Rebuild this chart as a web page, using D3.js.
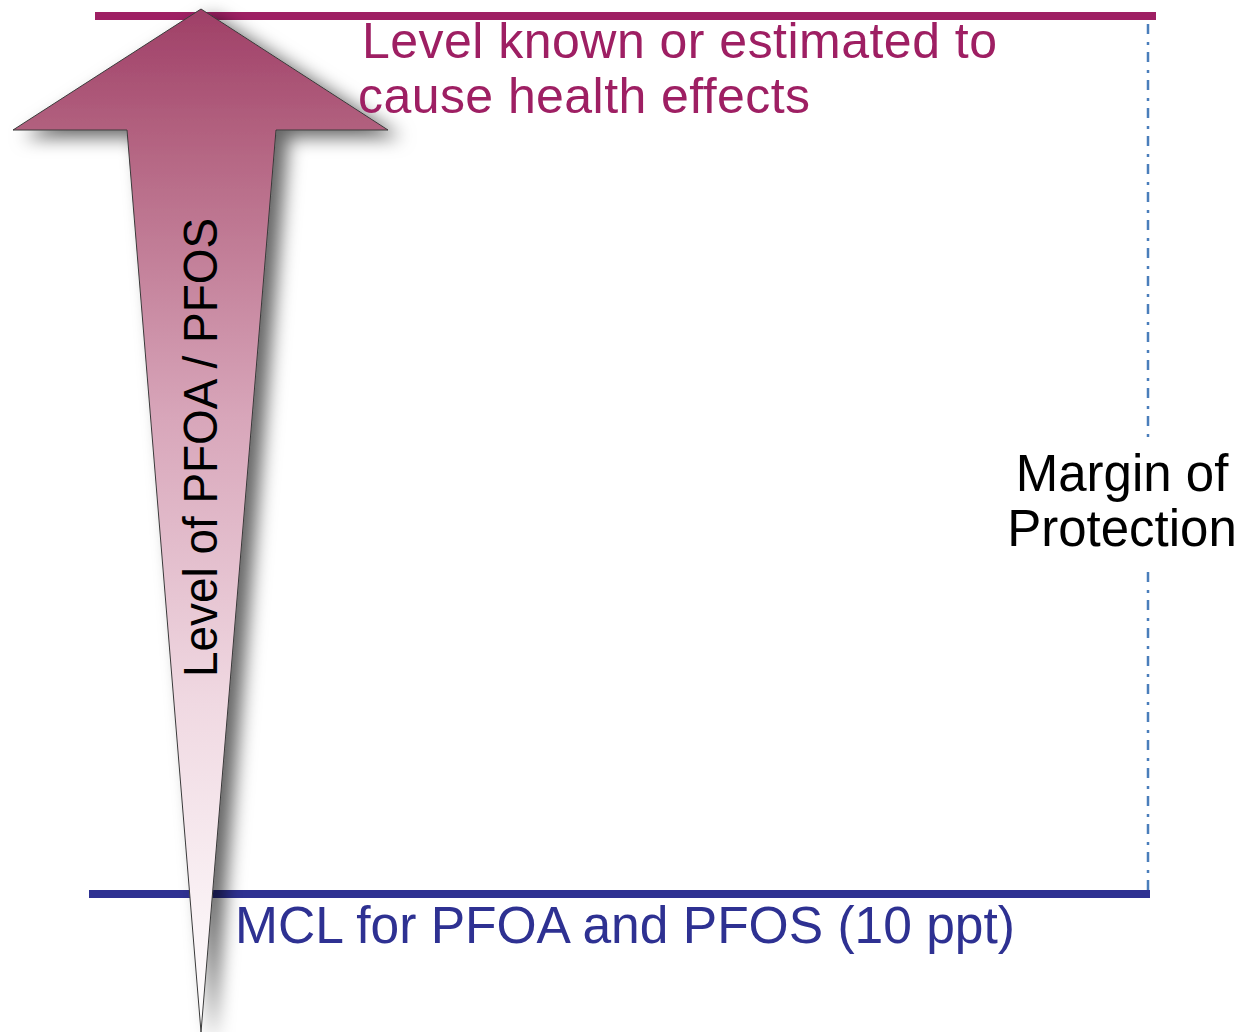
<!DOCTYPE html>
<html>
<head>
<meta charset="utf-8">
<script src="https://cdn.jsdelivr.net/npm/d3@7/dist/d3.min.js"></script>
<style>
  html, body { margin: 0; padding: 0; background: #fff; }
  svg { display: block; }
  text { font-family: "Liberation Sans", Arial, sans-serif; }
</style>
</head>
<body>
<svg id="chart" width="1238" height="1032"></svg>
<script>
// ---- data ----
const levelKeys = ["mcl", "health"];
const levelValues = [0, 1];            // relative level on the arrow's axis
const levelLabels = [
  ["MCL for PFOA and PFOS (10 ppt)"],
  ["Level known or estimated to", "cause health effects"]
];
const axisLabel = "Level of PFOA / PFOS";
const marginLabel = ["Margin of", "Protection"];

// ---- layout ----
const svg = d3.select("#chart");
const y = d3.scaleLinear().domain([0, 1]).range([894, 16]);
const lineColor = { mcl: "#2e3192", health: "#9e1f63" };
const lineX = { mcl: [89, 1150], health: [95, 1156] };

const defs = svg.append("defs");
const grad = defs.append("linearGradient")
  .attr("id", "arrowGrad").attr("gradientUnits", "userSpaceOnUse")
  .attr("x1", 0).attr("y1", 9).attr("x2", 0).attr("y2", 1032);
[[0, "#9f3f67"], [0.12, "#b2617f"], [0.4, "#d8a6ba"], [0.68, "#f0d9e2"], [1, "#ffffff"]]
  .forEach(([o, c]) => grad.append("stop").attr("offset", o).attr("stop-color", c));

const filt = defs.append("filter").attr("id", "shadow")
  .attr("x", "-40%").attr("y", "-10%").attr("width", "180%").attr("height", "130%");
filt.append("feDropShadow").attr("dx", 12).attr("dy", 7).attr("stdDeviation", 9)
  .attr("flood-color", "#000").attr("flood-opacity", 0.6);

// horizontal level lines
levelKeys.forEach((k, i) => {
  svg.append("line")
    .attr("x1", lineX[k][0]).attr("x2", lineX[k][1])
    .attr("y1", y(levelValues[i])).attr("y2", y(levelValues[i]))
    .attr("stroke", lineColor[k]).attr("stroke-width", 8);
});

// dash-dot margin line, interrupted by label
const dashX = 1148;
[[y(1) + 8, 438], [572, y(0) - 4]].forEach(([a, b]) => {
  svg.append("line")
    .attr("x1", dashX).attr("x2", dashX).attr("y1", a).attr("y2", b)
    .attr("stroke", "#4a7ebb").attr("stroke-width", 2.5)
    .attr("stroke-dasharray", "10,8,3,7");
});

// arrow
const tipX = 201, tipY = 9, headY = 130, headL = 13, headR = 388;
const shaftL = 127, shaftR = 276, bottomY = 1032;
const arrowPts = [
  [tipX, tipY], [headR, headY], [shaftR, headY], [tipX, bottomY],
  [shaftL, headY], [headL, headY]
];
svg.append("path")
  .attr("d", d3.line()(arrowPts) + "Z")
  .attr("fill", "url(#arrowGrad)")
  .attr("stroke", "#3a3a3a").attr("stroke-width", 1)
  .attr("filter", "url(#shadow)");

// rotated axis label
svg.append("text")
  .attr("transform", "translate(217,677) rotate(-90)")
  .attr("font-size", 48).attr("fill", "#000")
  .attr("textLength", 459).attr("lengthAdjust", "spacingAndGlyphs")
  .text(axisLabel);

// top label
const topLines = levelLabels[1];
const topX = [362, 358], topY = [58, 113];
topLines.forEach((t, i) => {
  svg.append("text").attr("x", topX[i]).attr("y", topY[i])
    .attr("font-size", 50).attr("fill", lineColor.health)
    .attr("textLength", i === 0 ? 635 : 452).attr("lengthAdjust", "spacing")
    .text(t);
});

// bottom label
svg.append("text").attr("x", 235).attr("y", 943)
  .attr("font-size", 51).attr("fill", lineColor.mcl)
  .attr("textLength", 780).attr("lengthAdjust", "spacingAndGlyphs")
  .text(levelLabels[0][0]);

// margin label
const mY = [491, 546];
marginLabel.forEach((t, i) => {
  svg.append("text").attr("x", 1122).attr("y", mY[i])
    .attr("text-anchor", "middle")
    .attr("font-size", 51).attr("fill", "#000").text(t);
});
</script>
</body>
</html>
